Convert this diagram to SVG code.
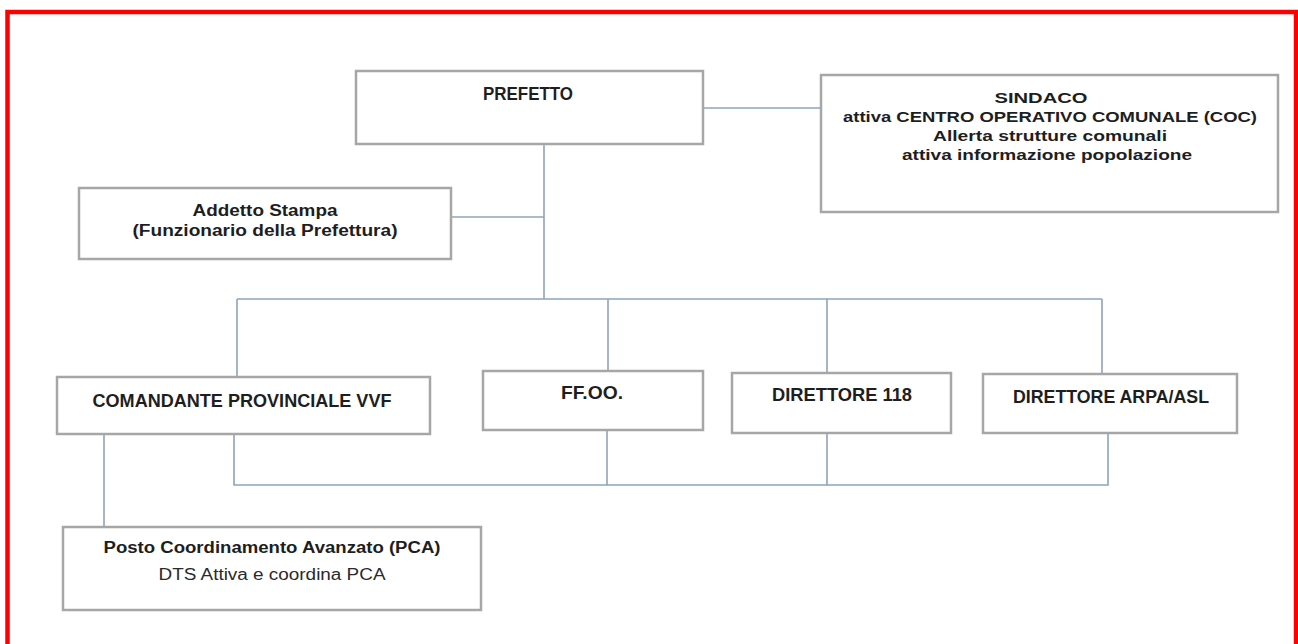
<svg xmlns="http://www.w3.org/2000/svg" width="1298" height="644" viewBox="0 0 1298 644">
  <style>
    .box { fill: #ffffff; stroke: #a6a6a6; stroke-width: 2.5; }
    .shadow { fill: none; stroke: #e4e4e4; stroke-width: 2; }
    .t { font-family: "Liberation Sans", Arial, sans-serif; font-weight: bold; fill: #1e1e1e; text-anchor: middle; }
    .r { font-family: "Liberation Sans", Arial, sans-serif; font-weight: normal; fill: #2a2a2a; text-anchor: middle; }
    .c { fill: none; stroke: #8ea4b7; stroke-width: 1.6; }
  </style>
  <rect x="0" y="0" width="1298" height="644" fill="#ffffff"/>
  <rect x="7.5" y="12" width="1288.5" height="700" fill="none" stroke="#ff0000" stroke-width="4.5"/>

  <g id="connectors">
    <line class="c" x1="703" y1="108" x2="821" y2="108"/>
    <line class="c" x1="544" y1="144" x2="544" y2="299"/>
    <line class="c" x1="451" y1="217" x2="544" y2="217"/>
    <line class="c" x1="237" y1="299" x2="1102" y2="299"/>
    <line class="c" x1="237" y1="299" x2="237" y2="377"/>
    <line class="c" x1="608" y1="299" x2="608" y2="371"/>
    <line class="c" x1="827" y1="299" x2="827" y2="373"/>
    <line class="c" x1="1102" y1="299" x2="1102" y2="374"/>
    <polyline class="c" points="234,434 234,485 1108,485 1108,433"/>
    <line class="c" x1="607" y1="430" x2="607" y2="485"/>
    <line class="c" x1="827" y1="433" x2="827" y2="485"/>
    <line class="c" x1="104" y1="434" x2="104" y2="527"/>
  </g>

  <g id="prefetto">
    <rect class="box" x="356" y="71" width="347" height="73"/>
    <text class="t" x="528" y="100" font-size="18" textLength="90" lengthAdjust="spacingAndGlyphs">PREFETTO</text>
  </g>

  <g id="sindaco">
    <rect class="box" x="821" y="75" width="457" height="137"/>
    <text class="t" x="1041" y="103" font-size="15" textLength="93" lengthAdjust="spacingAndGlyphs">SINDACO</text>
    <text class="t" x="1050" y="122" font-size="15" textLength="414" lengthAdjust="spacingAndGlyphs">attiva  CENTRO OPERATIVO COMUNALE (COC)</text>
    <text class="t" x="1050" y="141" font-size="15" textLength="234" lengthAdjust="spacingAndGlyphs">Allerta strutture comunali</text>
    <text class="t" x="1047" y="160" font-size="15" textLength="290" lengthAdjust="spacingAndGlyphs">attiva informazione popolazione</text>
  </g>

  <g id="addetto">
    <rect class="box" x="79" y="188" width="372" height="71"/>
    <text class="t" x="265" y="216" font-size="16" textLength="145" lengthAdjust="spacingAndGlyphs">Addetto Stampa</text>
    <text class="t" x="265" y="236" font-size="16" textLength="265" lengthAdjust="spacingAndGlyphs">(Funzionario della Prefettura)</text>
  </g>

  <g id="comandante">
    <rect class="box" x="57" y="377" width="373" height="57"/>
    <text class="t" x="242" y="407" font-size="19" textLength="299" lengthAdjust="spacingAndGlyphs">COMANDANTE PROVINCIALE VVF</text>
  </g>

  <g id="ffoo">
    <rect class="box" x="483" y="371" width="220" height="59"/>
    <text class="t" x="592" y="399" font-size="19" textLength="62" lengthAdjust="spacingAndGlyphs">FF.OO.</text>
  </g>

  <g id="direttore118">
    <rect class="box" x="732" y="373" width="219" height="60"/>
    <text class="t" x="842" y="401" font-size="19" textLength="140" lengthAdjust="spacingAndGlyphs">DIRETTORE 118</text>
  </g>

  <g id="direttore-arpa">
    <rect class="box" x="983" y="374" width="254" height="59"/>
    <text class="t" x="1111" y="403" font-size="19" textLength="196" lengthAdjust="spacingAndGlyphs">DIRETTORE ARPA/ASL</text>
  </g>

  <g id="pca">
    <rect class="box" x="63" y="527" width="418" height="83"/>
    <text class="t" x="272" y="553" font-size="16" textLength="337" lengthAdjust="spacingAndGlyphs">Posto Coordinamento Avanzato (PCA)</text>
    <text class="r" x="272" y="580" font-size="16" textLength="227" lengthAdjust="spacingAndGlyphs">DTS Attiva e coordina PCA</text>
  </g>
</svg>
